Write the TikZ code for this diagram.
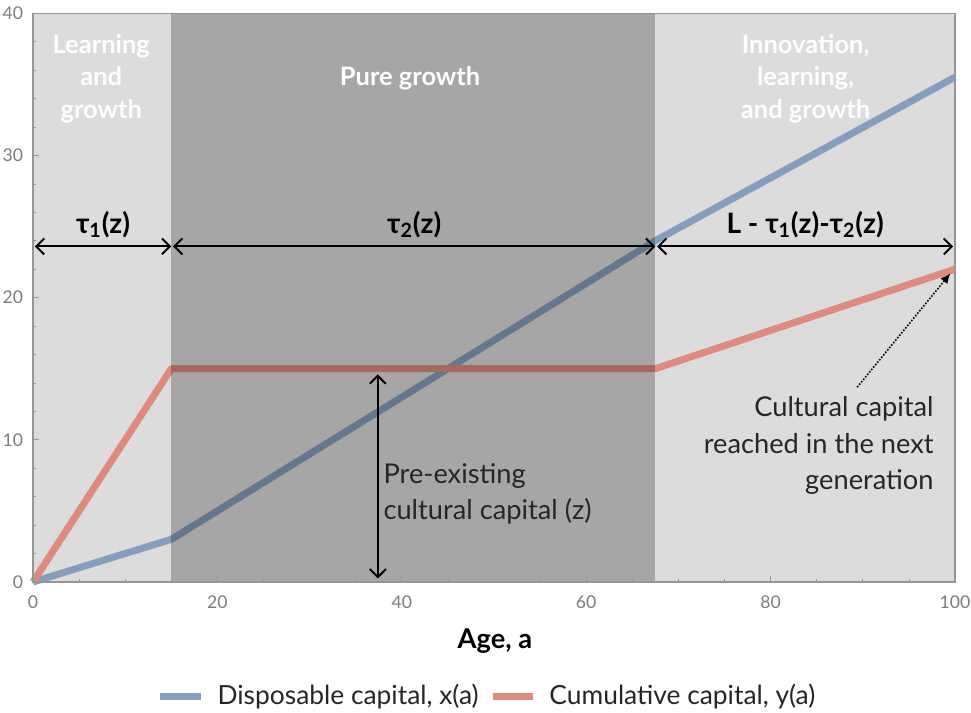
\documentclass[tikz,border=0pt]{standalone}
\usepackage{fontspec}
\setmainfont{Lato}
\usetikzlibrary{arrows.meta}
\definecolor{panelgray}{RGB}{220,220,220}
\definecolor{framegray}{RGB}{150,150,150}
\definecolor{tickgray}{RGB}{125,125,125}
\definecolor{xblue}{RGB}{134,158,190}
\definecolor{yred}{RGB}{222,138,124}
\tikzset{
	xcurve/.style={xblue,line width=4pt,line join=round},
	ycurve/.style={yred,line width=4pt,line join=round},
	span/.style={{Straight Barb[length=1.6mm,width=3.2mm]}-{Straight Barb[length=1.6mm,width=3.2mm]},line width=1.1pt},
	phase/.style={white,font=\bfseries\fontsize{14.5}{18.5}\selectfont,align=center},
	note/.style={black!85,font=\fontsize{15.5}{20.8}\selectfont},
	dur/.style={font=\bfseries\fontsize{16}{19}\selectfont},
	ticklab/.style={tickgray,font=\fontsize{10}{12}\selectfont},
}
\begin{document}
\begin{tikzpicture}[x=0.1844cm,y=0.2844cm]
	\useasboundingbox (-3.58,-9.21) rectangle (101.74,40.93);
	\fill[white] (-3.58,-9.21) rectangle (101.74,40.93);
	\fill[panelgray] (0,0) rectangle (100,40);
	
	% capital curves
	\draw[xcurve] (0,0) -- (15,3) -- (67.5,24) -- (100,35.5);
	\draw[ycurve] (0,0) -- (15,15) -- (67.5,15) -- (100,22);
	
	% pure growth phase
	\fill[black,opacity=0.245] (15,0) rectangle (67.5,40);
	
	% frame and ticks
	\draw[framegray,line width=0.6pt] (0,0) rectangle (100,40);
	\foreach \x in {5,10,...,95}
		\draw[framegray] (\x,0) -- (\x,0.22);
	\foreach \x in {20,40,...,80}
		\draw[framegray] (\x,0) -- (\x,0.45);
	\foreach \y in {2,4,...,38}
		\draw[framegray] (0,\y) -- (0.35,\y);
	\foreach \y in {10,20,30}
		\draw[framegray] (0,\y) -- (0.7,\y);
	\foreach \x in {0,20,...,100}
		\node[ticklab] at (\x,-1.45) {\x};
	\foreach \y in {0,10,...,40}
		\node[ticklab,anchor=east] at (-0.4,\y) {\y};
	
	% phase labels
	\node (learn)[phase] at (7.4,35.4) {Learning\\and\\growth};
	\node (pure)[phase] at (40.9,35.4) {Pure growth};
	\node (innov)[phase] at (83.8,35.4) {Innovation,\\learning,\\and growth};
	
	% durations
	\coordinate (s0) at (0.2,23.6);
	\coordinate (s1) at (15,23.6);
	\coordinate (s2) at (67.5,23.6);
	\coordinate (s3) at (99.8,23.6);
	\draw[span] (s0) -- (s1)
	node[midway,above=1pt,dur] (tau1) {τ\textsubscript{1}(z)};
	\draw[span] ([xshift=1pt]s1) -- (s2)
	node[midway,above=1pt,dur] (tau2) {τ\textsubscript{2}(z)};
	\draw[span] ([xshift=1pt]s2) -- (s3)
	node[midway,above=1pt,dur] (rest) {L - τ\textsubscript{1}(z)-τ\textsubscript{2}(z)};
	
	% pre-existing capital
	\coordinate (zt) at (37.4,14.6);
	\coordinate (zb) at (37.4,0.25);
	\draw[span] (zb) -- (zt);
	\node (pre)[note,anchor=west,align=left,inner sep=2pt] at (37.6,6.2) {Pre-existing\\cultural capital (z)};
	
	% next generation
	\node (next)[note,anchor=east,align=right,inner sep=2pt] at (98.1,9.6) {Cultural capital\\reached in the next\\generation};
	\coordinate (nx) at (89.4,13.7);
	\coordinate (ny) at (99.5,21.7);
	\draw[-{Latex[length=2mm,width=1.8mm]},dash pattern=on 0.9pt off 0.9pt,line width=0.9pt] (nx) -- (ny);
	
	% axis title and legend
	\node (age)[font=\bfseries\fontsize{15.5}{18}\selectfont] at (50.1,-4.15) {Age, a};
	\draw[xcurve] (13.8,-8.05) -- (18.2,-8.05);
	\node (xleg)[note,anchor=west,font=\fontsize{15}{18}\selectfont,inner sep=2pt] at (19.6,-8.05) {Disposable capital, x(a)};
	\draw[ycurve] (49.9,-8.05) -- (54.2,-8.05);
	\node (yleg)[note,anchor=west,font=\fontsize{15}{18}\selectfont,inner sep=2pt] at (55.6,-8.05) {Cumulative capital, y(a)};
\end{tikzpicture}
\end{document}
